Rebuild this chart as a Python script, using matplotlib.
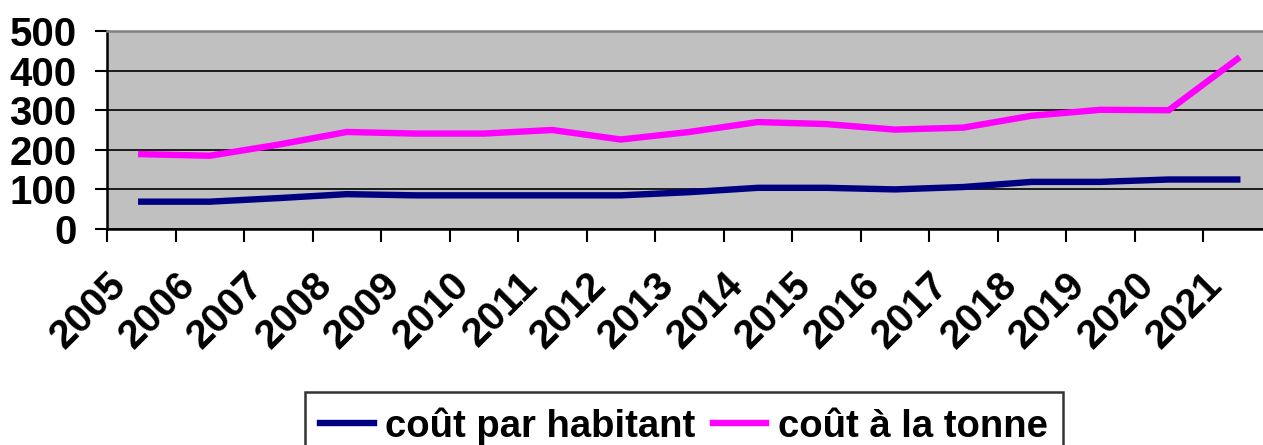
import matplotlib
matplotlib.use('Agg')
import matplotlib.pyplot as plt
import numpy as np

plt.rcParams['font.family'] = ['Liberation Sans', 'DejaVu Sans']
plt.rcParams['font.weight'] = 'bold'

# Data
years = ['2005', '2006', '2007', '2008', '2009', '2010', '2011', '2012', '2013',
         '2014', '2015', '2016', '2017', '2018', '2019', '2020', '2021']
cout_habitant = [69, 69, 78, 88, 85, 85, 85, 85, 93, 104, 104, 100, 106, 119, 119, 125, 125]
cout_tonne = [189, 185, 213, 245, 241, 241, 250, 226, 245, 270, 265, 251, 256, 286, 301, 300, 429]

W, H = 1263, 445
fig = plt.figure(figsize=(W / 100, H / 100), dpi=100)

# plot area (right edge runs past the image like in the original)
left, right, top, bottom = 107, 1271.5, 31, 229
ax = fig.add_axes([left / W, 1 - bottom / H, (right - left) / W, (bottom - top) / H])
ax.set_facecolor('#C0C0C0')

x = np.arange(len(years)) + 0.5
ax.plot(x, cout_habitant, color='#000080', lw=4.6, label='coût par habitant',
        solid_joinstyle='miter', zorder=3)
ax.plot(x, cout_tonne, color='#FF00FF', lw=4.6, label='coût à la tonne',
        solid_joinstyle='miter', zorder=3)

ax.set_xlim(0, len(years))
ax.set_ylim(0, 500)
ax.set_yticks(range(0, 501, 100))
ax.yaxis.grid(True, color='black', lw=1.2)
ax.set_axisbelow(True)

ax.set_xticks(range(len(years) + 1))
ax.set_xticklabels(years + [''], rotation=45, ha='right', va='top',
                   rotation_mode='anchor', fontsize=29, fontweight='bold')
ax.tick_params(axis='x', length=9, width=1.5, pad=17, direction='out')
ax.tick_params(axis='y', length=9, width=1.5, pad=13, labelsize=29)
for lab in ax.get_yticklabels():
    lab.set_fontweight('bold')

ax.spines['left'].set_linewidth(1.8)
ax.spines['bottom'].set_linewidth(1.8)
ax.spines['top'].set_color('#808080')
ax.spines['top'].set_linewidth(1.8)
ax.spines['right'].set_visible(False)

leg = fig.legend(loc='upper left', bbox_to_anchor=(305 / W, 1 - 392 / H),
                 ncol=2, fontsize=27.5, frameon=True, fancybox=False,
                 handlelength=1.4, handletextpad=0.3, columnspacing=0.45,
                 borderpad=0.4, borderaxespad=0)
leg.get_frame().set_edgecolor('black')
leg.get_frame().set_linewidth(1.8)
for t in leg.get_texts():
    t.set_fontweight('bold')

fig.savefig('out.png', dpi=100)
